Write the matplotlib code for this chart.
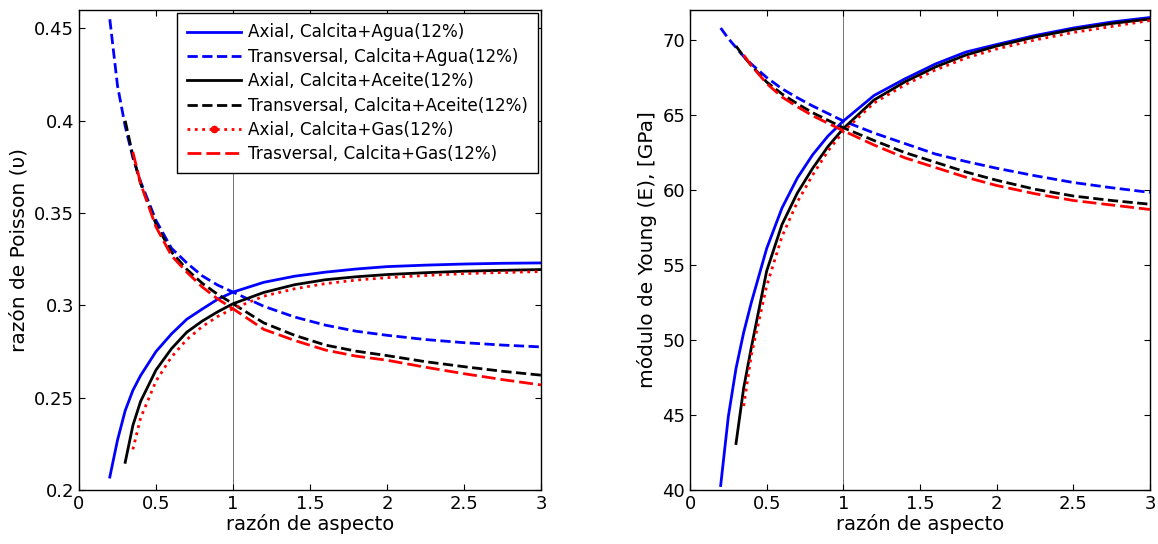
import matplotlib
matplotlib.use("Agg")
import matplotlib.pyplot as plt
from matplotlib.lines import Line2D
from matplotlib.ticker import FormatStrFormatter, MultipleLocator

plt.rcParams['font.family'] = ['DejaVu Sans']

# ---- data ----
x_agua = [0.2, 0.25, 0.3, 0.35, 0.4, 0.5, 0.6, 0.7, 0.8, 0.9, 1.0, 1.2, 1.4, 1.6, 1.8, 2.0, 2.25, 2.5, 2.75, 3.0]
x_aceite = [0.3, 0.35, 0.4, 0.5, 0.6, 0.7, 0.8, 0.9, 1.0, 1.2, 1.4, 1.6, 1.8, 2.0, 2.25, 2.5, 2.75, 3.0]
x_gas = [0.35, 0.4, 0.5, 0.6, 0.7, 0.8, 0.9, 1.0, 1.2, 1.4, 1.6, 1.8, 2.0, 2.25, 2.5, 2.75, 3.0]

# Poisson ratio
nu_ax_agua = [0.207, 0.227, 0.243, 0.254, 0.262, 0.275, 0.2845, 0.2925, 0.298, 0.3033, 0.3072,
              0.3125, 0.3158, 0.318, 0.3197, 0.321, 0.3218, 0.3224, 0.3228, 0.323]
nu_tr_agua = [0.455, 0.419, 0.397, 0.380, 0.367, 0.346, 0.331, 0.323, 0.316, 0.311, 0.3072,
              0.2995, 0.2937, 0.2893, 0.286, 0.2838, 0.2815, 0.2798, 0.2785, 0.2775]
nu_ax_aceite = [0.215, 0.235, 0.248, 0.265, 0.2765, 0.2855, 0.2915, 0.2965, 0.3009,
                0.307, 0.3112, 0.3139, 0.3155, 0.3167, 0.3177, 0.3185, 0.319, 0.3194]
nu_tr_aceite = [0.400, 0.381, 0.366, 0.344, 0.329, 0.3195, 0.312, 0.306, 0.3009,
                0.2905, 0.2838, 0.2785, 0.2752, 0.2728, 0.2695, 0.2668, 0.2643, 0.2622]
nu_ax_gas = [0.222, 0.239, 0.259, 0.272, 0.2815, 0.2885, 0.294, 0.2982, 0.305, 0.309,
             0.3118, 0.3137, 0.315, 0.3162, 0.3172, 0.3178, 0.3183]
nu_tr_gas = [0.383, 0.366, 0.3425, 0.327, 0.318, 0.31, 0.3035, 0.2982, 0.287, 0.281,
             0.2758, 0.2725, 0.2703, 0.2665, 0.263, 0.2598, 0.2569]

# Young modulus (GPa)
E_ax_agua = [40.3, 44.9, 48.1, 50.5, 52.5, 56.1, 58.8, 60.8, 62.35, 63.6, 64.6,
             66.3, 67.4, 68.4, 69.2, 69.7, 70.3, 70.8, 71.2, 71.5]
E_tr_agua = [70.8, 70.1, 69.5, 68.9, 68.4, 67.5, 66.75, 66.15, 65.6, 65.1, 64.6,
             63.8, 63.1, 62.4, 61.9, 61.45, 60.95, 60.5, 60.15, 59.84]
E_ax_aceite = [43.1, 46.8, 49.5, 54.6, 57.7, 59.8, 61.45, 62.9, 64.1, 66.0, 67.2,
               68.2, 69.0, 69.6, 70.2, 70.7, 71.1, 71.4]
E_tr_aceite = [69.6, 68.9, 68.3, 67.2, 66.4, 65.75, 65.15, 64.65, 64.15, 63.3, 62.5,
               61.85, 61.2, 60.65, 60.05, 59.6, 59.3, 59.05]
E_ax_gas = [45.6, 49.0, 53.6, 56.9, 59.2, 61.0, 62.6, 63.9, 65.8, 67.0, 68.0, 68.8,
            69.4, 70.0, 70.5, 70.9, 71.3]
E_tr_gas = [69.0, 68.3, 67.1, 66.2, 65.55, 64.95, 64.45, 63.95, 63.0, 62.15, 61.5,
            60.85, 60.3, 59.75, 59.3, 59.0, 58.7]

labels = ["Axial, Calcita+Agua(12%)", "Transversal, Calcita+Agua(12%)",
          "Axial, Calcita+Aceite(12%)", "Transversal, Calcita+Aceite(12%)",
          "Axial, Calcita+Gas(12%)", "Trasversal, Calcita+Gas(12%)"]
xticks = [0, 0.5, 1, 1.5, 2, 2.5, 3]

LW = 2.0
styles = [dict(color='#0000ff', ls='-'),
          dict(color='#0000ff', ls='--'),
          dict(color='black', ls='-'),
          dict(color='black', ls='--'),
          dict(color='#ff0000', ls=':'),
          dict(color='#ff0000', ls=(0, (5, 1.8)))]

fig = plt.figure(figsize=(11.58, 5.44), dpi=100)
ax1 = fig.add_axes([79 / 1158, 54 / 544, 462 / 1158, 480 / 544])
ax2 = fig.add_axes([690 / 1158, 54 / 544, 460 / 1158, 480 / 544])

def draw(ax, series):
    ax.axvline(1.0, color='0.45', lw=0.7, zorder=1)
    for (xs, ys), st in zip(series, styles):
        ax.plot(xs, ys, lw=LW, zorder=3, **st)
    ax.set_xlim(0, 3)
    ax.set_xticks(xticks)
    ax.xaxis.set_major_formatter(FormatStrFormatter('%g'))
    ax.yaxis.set_major_formatter(FormatStrFormatter('%g'))
    ax.tick_params(direction='in', top=True, right=True, labelsize=13, length=4, width=0.8)
    for s in ax.spines.values():
        s.set_linewidth(1.0)
    ax.set_xlabel("razón de aspecto", fontsize=14, labelpad=1)

draw(ax1, [(x_agua, nu_ax_agua), (x_agua, nu_tr_agua), (x_aceite, nu_ax_aceite),
           (x_aceite, nu_tr_aceite), (x_gas, nu_ax_gas), (x_gas, nu_tr_gas)])
ax1.set_ylim(0.2, 0.46)
ax1.yaxis.set_major_locator(MultipleLocator(0.05))
ax1.set_ylabel("razón de Poisson (υ)", fontsize=14.5)

draw(ax2, [(x_agua, E_ax_agua), (x_agua, E_tr_agua), (x_aceite, E_ax_aceite),
           (x_aceite, E_tr_aceite), (x_gas, E_ax_gas), (x_gas, E_tr_gas)])
ax2.set_ylim(40, 72)
ax2.yaxis.set_major_locator(MultipleLocator(5))
ax2.set_ylabel("módulo de Young (E), [GPa]", fontsize=14.5)

handles = []
for i, st in enumerate(styles):
    if i == 4:
        handles.append(Line2D([], [], lw=LW, marker='.', ms=9, **st))
    else:
        handles.append(Line2D([], [], lw=LW, **st))
leg = ax1.legend(handles, labels, loc='upper right', bbox_to_anchor=(0.993, 0.993),
                 borderaxespad=0, fontsize=12.1, frameon=True, fancybox=False,
                 edgecolor='black', framealpha=1, handlelength=3.2, handletextpad=0.4,
                 labelspacing=0.38, borderpad=0.6, numpoints=1)
leg.get_frame().set_linewidth(1.0)
leg.set_zorder(5)

fig.savefig("out.png", dpi=100)
